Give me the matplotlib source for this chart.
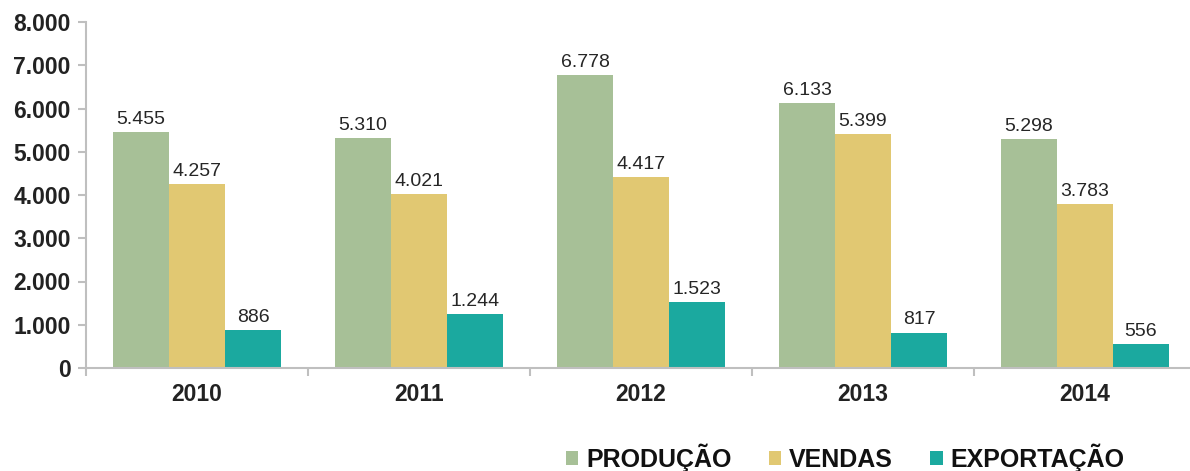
import matplotlib
matplotlib.use("Agg")
import matplotlib.pyplot as plt
import numpy as np

plt.rcParams['font.family'] = ['Liberation Sans', 'DejaVu Sans']

years = ["2010", "2011", "2012", "2013", "2014"]
series_names = ["PRODUÇÃO", "VENDAS", "EXPORTAÇÃO"]
producao = [5455, 5310, 6778, 6133, 5298]
vendas = [4257, 4021, 4417, 5399, 3783]
exportacao = [886, 1244, 1523, 817, 556]
colors = ["#A7C097", "#E1C872", "#1BA99F"]
y_ticks = [0, 1000, 2000, 3000, 4000, 5000, 6000, 7000, 8000]

def fmt(v):
    return f"{v:,}".replace(",", ".")

fig = plt.figure(figsize=(11.9, 4.71), dpi=100)
ax = fig.add_axes([86/1190, 1-368/471, 1110/1190, (368-22)/471])

x = np.arange(len(years))
w = 0.252
handles = []
for i, (vals, c, name) in enumerate(zip([producao, vendas, exportacao], colors, series_names)):
    bars = ax.bar(x + (i-1)*w, vals, width=w, color=c, label=name, zorder=2)
    handles.append(bars)
    for xi, v in zip(x + (i-1)*w, vals):
        ax.annotate(fmt(v), (xi, v), xytext=(0, 3), textcoords="offset points",
                    ha="center", va="bottom", fontsize=14, color="#262626")

ax.set_xlim(-0.5, len(years)-0.5)
ax.set_ylim(0, 8000)
ax.set_yticks(y_ticks)
ax.set_yticklabels([fmt(v) for v in y_ticks], fontsize=16.5, fontweight="bold", color="#222222")
ax.set_xticks(np.arange(-0.5, len(years), 1.0))
ax.set_xticklabels([])
ax.set_xticks(x, minor=True)
ax.set_xticklabels(years, minor=True, fontsize=16.5, fontweight="bold", color="#222222")
ax.tick_params(axis="x", which="minor", length=0, pad=11)
ax.tick_params(axis="x", which="major", length=6, color="#BFBFBF", width=1.5, direction="out")
ax.tick_params(axis="y", length=6, color="#BFBFBF", width=1.5, direction="out", pad=5)

for s in ["top", "right"]:
    ax.spines[s].set_visible(False)
for s in ["left", "bottom"]:
    ax.spines[s].set_color("#BFBFBF")
    ax.spines[s].set_linewidth(1.5)

fig.legend(handles=handles, labels=series_names, loc="center",
           bbox_to_anchor=(845/1190, 1-458/471), ncol=3, frameon=False,
           prop={"size": 18, "weight": "bold"}, handlelength=0.5, handleheight=0.5,
           handletextpad=0.3, columnspacing=1.5, labelcolor="#111111")

fig.savefig("out.png", dpi=100)
